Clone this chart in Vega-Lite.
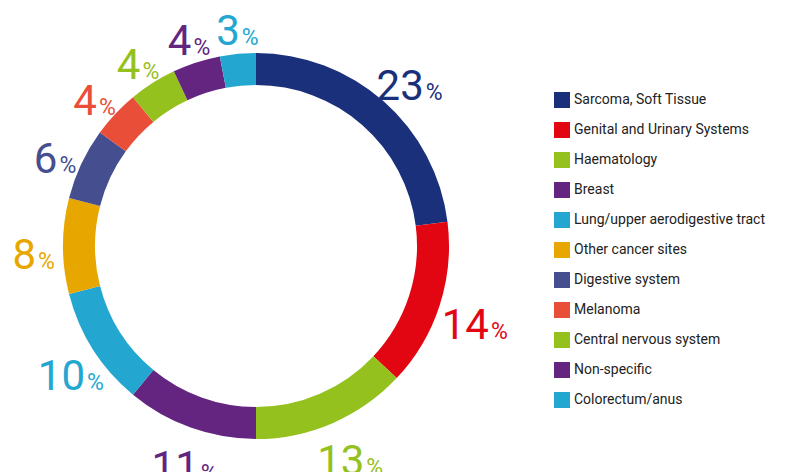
{
  "$schema": "https://vega.github.io/schema/vega-lite/v6.json",
  "width": 512,
  "height": 492,
  "padding": 0,
  "autosize": {"type": "pad"},
  "background": "white",
  "view": {"stroke": null},
  "data": {
    "values": [
      {"i": 1, "category": "Sarcoma, Soft Tissue", "value": 23},
      {"i": 2, "category": "Genital and Urinary Systems", "value": 14},
      {"i": 3, "category": "Haematology", "value": 13},
      {"i": 4, "category": "Breast", "value": 11},
      {"i": 5, "category": "Lung/upper aerodigestive tract", "value": 10},
      {"i": 6, "category": "Other cancer sites", "value": 8},
      {"i": 7, "category": "Digestive system", "value": 6},
      {"i": 8, "category": "Melanoma", "value": 4},
      {"i": 9, "category": "Central nervous system", "value": 4},
      {"i": 10, "category": "Non-specific", "value": 4},
      {"i": 11, "category": "Colorectum/anus", "value": 3}
    ]
  },
  "encoding": {
    "theta": {"field": "value", "type": "quantitative", "stack": true},
    "order": {"field": "i", "type": "quantitative"},
    "color": {
      "field": "category",
      "type": "nominal",
      "scale": {
        "domain": ["Sarcoma, Soft Tissue", "Genital and Urinary Systems", "Haematology", "Breast", "Lung/upper aerodigestive tract", "Other cancer sites", "Digestive system", "Melanoma", "Central nervous system", "Non-specific", "Colorectum/anus"],
        "range": ["#1b307b", "#e20613", "#95c11f", "#63257f", "#23a7d0", "#e8a600", "#454e8f", "#e94f38", "#95c11f", "#63257f", "#23a7d0"]
      },
      "legend": {
        "orient": "none",
        "legendX": 554,
        "legendY": 92,
        "title": null,
        "symbolType": "square",
        "symbolSize": 256,
        "symbolStrokeWidth": 0,
        "symbolOpacity": 1,
        "labelFont": "Roboto",
        "labelFontSize": 14,
        "labelColor": "#222222",
        "labelLimit": 300,
        "labelOffset": 4,
        "rowPadding": 14
      }
    }
  },
  "layer": [
    {"mark": {"type": "arc", "innerRadius": 161, "outerRadius": 193}},
    {
      "mark": {"type": "text", "radius": 225, "align": "right", "baseline": "alphabetic", "dy": 23, "dx": {"expr": "datum.value > 9 ? 19 : 5"}, "font": "Roboto", "fontSize": 42, "fontWeight": 400},
      "encoding": {"text": {"field": "value", "type": "quantitative"}}
    },
    {
      "mark": {"type": "text", "radius": 225, "align": "left", "baseline": "alphabetic", "dy": 23, "dx": {"expr": "datum.value > 9 ? 21 : 7"}, "font": "Roboto", "fontSize": 23, "fontWeight": 400},
      "encoding": {"text": {"value": "%"}}
    }
  ]
}
